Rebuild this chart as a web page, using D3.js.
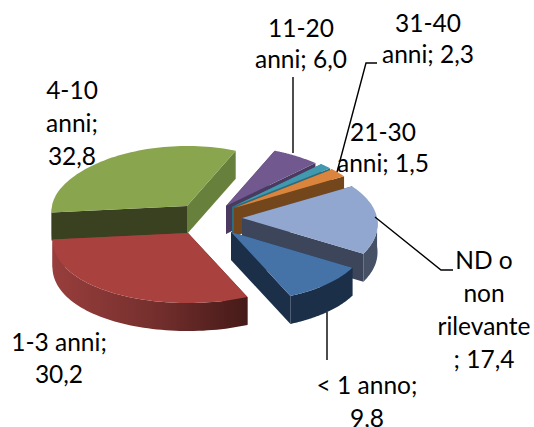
<!DOCTYPE html>
<html><head><meta charset="utf-8">
<script src="https://cdn.jsdelivr.net/npm/d3@7/dist/d3.min.js"></script>
<style>html,body{margin:0;background:#fff}svg{display:block}text{font-family:Lato,"Open Sans",sans-serif;font-size:24.5px;fill:#000;text-anchor:middle}</style>
</head><body><svg id="c" width="534" height="427"></svg>
<script>
const categories=["< 1 anno","1-3 anni","4-10 anni","11-20 anni","21-30 anni","31-40 anni","ND o non rilevante"];
const values=[9.8,30.2,32.8,6.0,1.5,2.3,17.4];
const topColors=["#4572a7","#a9423f","#89a54e","#71588f","#4198af","#db843d","#91a7cf"];
const outerColors=["#1b2f49","url(#redBand)","#3a4120","#4a3a60","#2a6e80","#74461c","#475165"];
const cutStartColors=["#1b2f49","#451a18","#3a4120","#4a3a60","#2a6e80","#74461c","#3c4559"];
const cutEndColors=["#1b2f49","#8e3a38","#67803b","#4a3a60","#2a6e80","#74461c","#3c4559"];
// layout of the exploded slices (apex of each wedge)
const apexX=[231,188,187,226,232,234,242];
const apexY=[232,233,206,206,207,208,218];
const depth=28, rxBase=135, rxNear=12, rxFar=10, ryFar=60, ryNear=70;
const drawOrder=[3,4,5,2,6,1,0];
const labels=[
 {lines:["11-20","anni; 6,0"],x:301,y:37,lh:31},
 {lines:["31-40","anni; 2,3"],x:428,y:32,lh:31},
 {lines:["21-30","anni; 1,5"],x:383,y:141,lh:31},
 {lines:["4-10","anni;","32,8"],x:72,y:99,lh:33},
 {lines:["1-3 anni;","30,2"],x:59,y:351,lh:32},
 {lines:["< 1 anno;","9,8"],x:367,y:394,lh:33},
 {lines:["ND o","non","rilevante","; 17,4"],x:484,y:269,lh:33}
];
const leaders=[
 [[293,77],[293,153]],
 [[377,63],[366,63],[337,172]],
 [[375,217],[441,270],[453,270]],
 [[327,312],[327,360]]
];
const svg=d3.select("#c");
const defs=svg.append("defs");
const g=defs.append("linearGradient").attr("id","redBand").attr("gradientUnits","userSpaceOnUse")
 .attr("x1",53).attr("x2",248).attr("y1",0).attr("y2",0);
g.append("stop").attr("offset",0).attr("stop-color","#983e3c");
g.append("stop").attr("offset",.5).attr("stop-color","#76302e");
g.append("stop").attr("offset",1).attr("stop-color","#451a18");
const startAngle=120.7*Math.PI/180;
const arcs=d3.pie().sort(null).startAngle(startAngle).endAngle(startAngle+2*Math.PI)(values);
const pt=(i,a,dz=0)=>{const c=Math.cos(a),s=Math.sin(a);
 const rx=rxBase+rxNear*Math.max(0,-c)-rxFar*Math.max(0,c), ry=c>0?ryFar:ryNear;
 return [apexX[i]+rx*s, apexY[i]-ry*c+dz];};
const line=d3.line();
drawOrder.forEach(i=>{
 const d=arcs[i];
 const as=d3.range(0,61).map(k=>d.startAngle+(d.endAngle-d.startAngle)*k/60);
 const apex=[apexX[i],apexY[i]],apexB=[apexX[i],apexY[i]+depth];
 const top=as.map(a=>pt(i,a));
 const front=as.filter(a=>Math.cos(a)<=0);
 const gs=svg.append("g").attr("class","slice").attr("data-cat",categories[i]);
 const tS=top[0],tE=top[60],bS=[tS[0],tS[1]+depth],bE=[tE[0],tE[1]+depth];
 gs.append("path").attr("d",line([apex,tS,bS,apexB])+"Z").attr("fill",cutStartColors[i]);
 gs.append("path").attr("d",line([apex,tE,bE,apexB])+"Z").attr("fill",cutEndColors[i]);
 if(front.length>1){
  const ft=front.map(a=>pt(i,a)), fb=front.map(a=>pt(i,a,depth)).reverse();
  gs.append("path").attr("d",line(ft.concat(fb))+"Z").attr("fill",outerColors[i]);
 }
 gs.append("path").attr("d",line([apex,...top])+"Z").attr("fill",topColors[i]);
});
leaders.forEach(l=>svg.append("path").attr("d",line(l)).attr("fill","none").attr("stroke","#000").attr("stroke-width",1.4));
labels.forEach(l=>{const t=svg.append("text");
 l.lines.forEach((s,k)=>t.append("tspan").attr("x",l.x).attr("y",l.y+k*l.lh).text(s));});
</script></body></html>
